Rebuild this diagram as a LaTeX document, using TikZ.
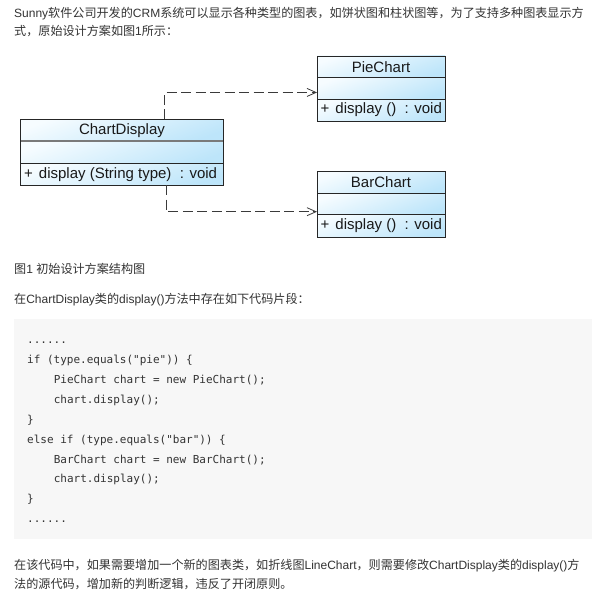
\documentclass[tikz,border=0pt]{standalone}
\usepackage{fontspec}
\setmainfont{Liberation Sans}
\setmonofont{DejaVu Sans Mono}
\newfontfamily\cjk{Noto Sans CJK SC}
\usetikzlibrary{arrows.meta,calc}
\definecolor{txt}{HTML}{333333}
\definecolor{codebg}{HTML}{F7F7F7}
\definecolor{umlA}{HTML}{F6FCFF}
\definecolor{umlB}{HTML}{BDE5FA}
\definecolor{umlline}{HTML}{262626}
\definecolor{sepgray}{HTML}{7A7A7A}
\definecolor{depline}{HTML}{3A3A3A}
\newcommand{\zh}[1]{{\cjk\fontsize{12.1}{14}\selectfont #1}}
\begin{document}
\begin{tikzpicture}[x=1pt,y=-1pt,
  para/.style={anchor=base west, inner sep=0, text=txt, font=\fontsize{12}{14}\selectfont},
  codeline/.style={anchor=base west, inner sep=0, text=txt, font=\ttfamily\fontsize{11}{13}\selectfont},
  comp/.style={draw=umlline, line width=0.8pt, top color=umlA, bottom color=umlB, shading angle=20,
    minimum width=#1, inner sep=0, outer sep=0, anchor=north west},
  hdrtext/.style={inner sep=0, font=\fontsize{15}{17}\selectfont, text=black!90},
  mthtext/.style={inner sep=0, anchor=west, font=\fontsize{15}{17}\selectfont, text=black!90},
  dep/.style={draw=depline, line width=0.9pt, dash pattern=on 10pt off 4.5pt,
    -{Straight Barb[length=9pt,width=8pt,line width=0.8pt]}},
]
\fill[white] (0,0) rectangle (613,594);
\useasboundingbox (0,0) rectangle (613,594);

% ---- paragraph text ----
\node[para] (l1) at (14,17.3) {Sunny\zh{软件公司开发的}CRM\zh{系统可以显示各种类型的图表，如饼状图和柱状图等，为了支持多种图表显示方}};
\node[para] (l2) at (14,35.9) {\zh{式，原始设计方案如图}1\zh{所示：}};

% ---- UML: PieChart ----
\node[comp=128, minimum height=21.3] (pieH) at (317,56) {};
\node[comp=128, minimum height=21.7] (pieA) at (317,77.3) {};
\node[comp=128, minimum height=22] (pieM) at (317,99) {};
\node[hdrtext] (pieT) at (pieH) {PieChart};
\node[mthtext] (pieO) at ([xshift=3.5pt]pieM.west) {+\hspace{6pt}display ()\ \ : void};

% ---- UML: BarChart ----
\node[comp=128, minimum height=21.6] (barH) at (317,171.7) {};
\node[comp=128, minimum height=21] (barA) at (317,193.3) {};
\node[comp=128, minimum height=23] (barM) at (317,214.3) {};
\node[hdrtext] (barT) at (barH) {BarChart};
\node[mthtext] (barO) at ([xshift=3.5pt]barM.west) {+\hspace{6pt}display ()\ \ : void};

% ---- UML: ChartDisplay ----
\node[comp=202.6, minimum height=21.7] (cdH) at (20.7,119.3) {};
\node[comp=202.6, minimum height=22.3] (cdA) at (20.7,141) {};
\node[comp=202.6, minimum height=21.7] (cdM) at (20.7,163.3) {};
\draw[sepgray, line width=1.4pt] (cdH.south west) -- (cdH.south east);
\node[hdrtext] (cdT) at (cdH) {ChartDisplay};
\node[mthtext] (cdO) at ([xshift=3.3pt]cdM.west) {+\hspace{6pt}display (String type)\ \ : void};

% ---- dependencies ----
\draw[dep] ([xshift=42.4pt]cdH.north) |- ([yshift=-4.3pt]pieA.west);
\draw[dep] ([xshift=44pt]cdM.south) |- ([yshift=-7.9pt]barA.west);

% ---- caption and intro ----
\node[para] (cap) at (14,273.4) {\zh{图}1 \zh{初始设计方案结构图}};
\node[para] (intro) at (14,303.4) {\zh{在}ChartDisplay\zh{类的}display()\zh{方法中存在如下代码片段：}};

% ---- code block ----
\node[fill=codebg, inner sep=0, outer sep=0, anchor=north west, minimum width=578, minimum height=220.3] (code) at (14,319) {};
\node[codeline] (c1) at (27,343.9) {......};
\node[codeline] (c2) at (27,363.75) {if (type.equals("pie")) \{};
\node[codeline] (c3) at (53.6,383.6) {PieChart chart = new PieChart();};
\node[codeline] (c4) at (53.6,403.45) {chart.display();};
\node[codeline] (c5) at (27,423.3) {\}};
\node[codeline] (c6) at (27,443.15) {else if (type.equals("bar")) \{};
\node[codeline] (c7) at (53.6,463) {BarChart chart = new BarChart();};
\node[codeline] (c8) at (53.6,482.85) {chart.display();};
\node[codeline] (c9) at (27,502.7) {\}};
\node[codeline] (c10) at (27,522.55) {......};

% ---- closing text ----
\node[para] (b1) at (14,569.6) {\zh{在该代码中，如果需要增加一个新的图表类，如折线图}LineChart\zh{，则需要修改}ChartDisplay\zh{类的}display()\zh{方}};
\node[para] (b2) at (14,588.1) {\zh{法的源代码，增加新的判断逻辑，违反了开闭原则。}};
\end{tikzpicture}
\end{document}
